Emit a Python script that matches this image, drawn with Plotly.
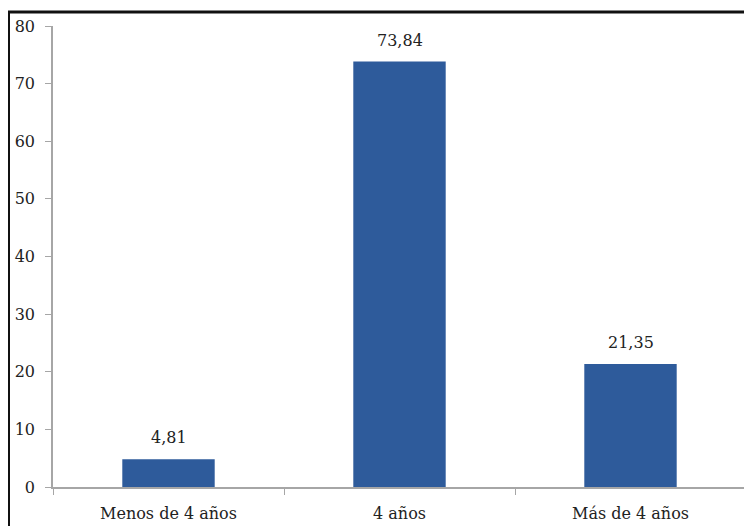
import plotly.graph_objects as go

categories = ["Menos de 4 años", "4 años", "Más de 4 años"]
values = [4.81, 73.84, 21.35]
y_ticks = [0, 10, 20, 30, 40, 50, 60, 70, 80]

# page body has an 8px margin, so the figure is offset by 8px
W, H = 744, 518
L, R, T, B = 45, 6, 18, 39
pw, ph = W - L - R, H - T - B

def px_x(x):
    return (x - L) / pw

def px_y(y):
    return (H - B - y) / ph

FONT = "DejaVu Serif"

fig = go.Figure(go.Bar(
    x=categories, y=values,
    marker=dict(color="#2E5B9B", line=dict(width=0)),
    width=0.4,
))

for c, v in zip(categories, values):
    fig.add_annotation(
        x=c, y=v, text=f"{v:.2f}".replace(".", ","),
        showarrow=False, yanchor="bottom", yshift=10,
        font=dict(family=FONT, size=16, color="#222222"),
    )

fig.update_layout(
    width=W, height=H,
    margin=dict(l=L, r=R, t=T, b=B),
    paper_bgcolor="white", plot_bgcolor="white",
    font=dict(family=FONT, size=16, color="#222222"),
    showlegend=False,
    xaxis=dict(
        showline=True, linecolor="#A6A6A6", linewidth=1.5,
        ticks="outside", tickson="boundaries", ticklen=6, tickcolor="#A6A6A6",
        ticklabelstandoff=11,
        showgrid=False, tickfont=dict(size=16), automargin=False,
    ),
    yaxis=dict(
        range=[0, 80], tickvals=y_ticks,
        showline=True, linecolor="#A6A6A6", linewidth=1.5,
        ticks="outside", ticklen=6, tickcolor="#A6A6A6", ticklabelstandoff=7,
        showgrid=False, zeroline=False, tickfont=dict(size=16), automargin=False,
    ),
    shapes=[dict(
        type="rect", xref="paper", yref="paper",
        x0=px_x(0.5), x1=px_x(743), y0=px_y(530), y1=px_y(4),
        line=dict(color="#111111", width=3), fillcolor="rgba(0,0,0,0)",
    )],
)

fig.write_html("out.html")
